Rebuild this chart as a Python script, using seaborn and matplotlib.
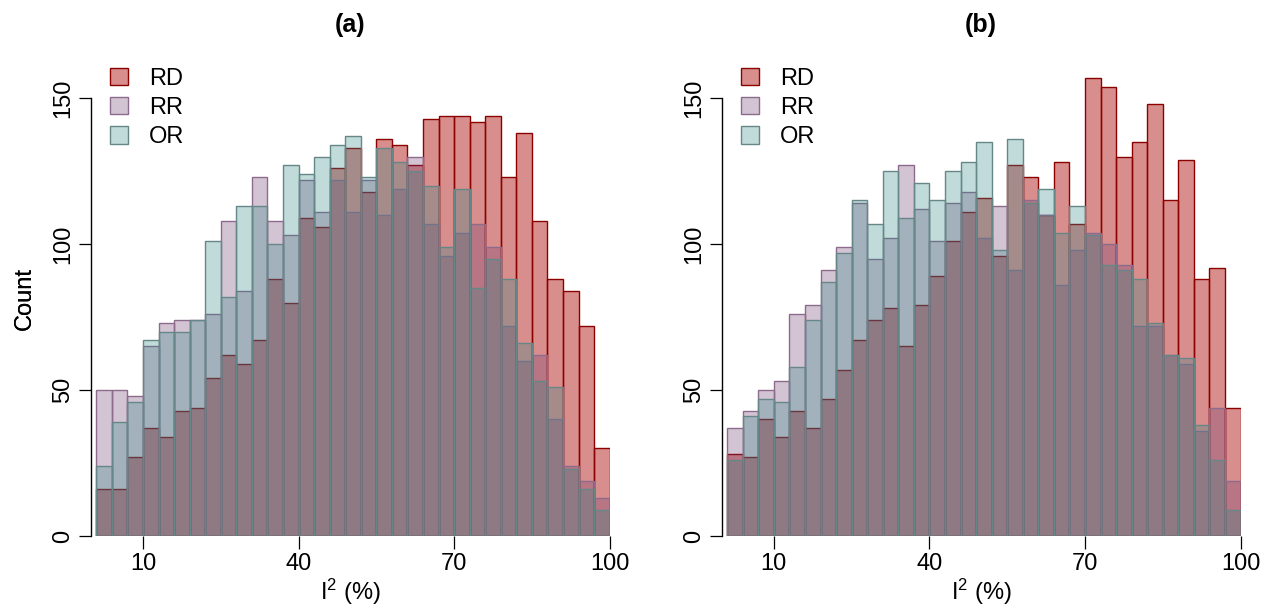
import numpy as np
import pandas as pd
import matplotlib
matplotlib.use("Agg")
import matplotlib.pyplot as plt
import seaborn as sns

# Histogram bins for I^2 (%): width 3, from 1 to 100
bin_edges = [float(v) for v in np.arange(1, 101, 3)]
bin_mids = [(a + b) / 2 for a, b in zip(bin_edges[:-1], bin_edges[1:])]

measures = ["RD", "RR", "OR"]
panel_titles = ["(a)", "(b)"]
x_ticks = [10, 40, 70, 100]
y_ticks = [0, 50, 100, 150]

# Counts per bin, panel (a)
rd_a = [16, 16, 27, 37, 34, 43, 44, 54, 62, 59, 67, 88, 80, 109, 106, 126, 133,
        118, 136, 134, 127, 143, 144, 144, 142, 144, 123, 138, 108, 88, 84, 72, 30]
rr_a = [50, 50, 48, 65, 73, 74, 74, 76, 108, 84, 123, 108, 103, 122, 111, 122, 111,
        122, 110, 119, 130, 107, 96, 104, 107, 99, 72, 60, 62, 40, 24, 19, 13]
or_a = [24, 39, 46, 67, 70, 70, 74, 101, 82, 113, 113, 100, 127, 124, 130, 134, 137,
        123, 133, 128, 125, 120, 99, 119, 85, 95, 88, 66, 53, 51, 23, 16, 9]

# Counts per bin, panel (b)
rd_b = [28, 27, 40, 34, 43, 37, 47, 57, 67, 74, 78, 65, 79, 89, 101, 111, 116,
        96, 127, 123, 110, 128, 107, 157, 154, 130, 135, 148, 115, 129, 88, 92, 44]
rr_b = [37, 43, 50, 53, 76, 79, 91, 99, 114, 95, 102, 127, 112, 101, 114, 118, 102,
        113, 91, 115, 110, 86, 98, 104, 100, 93, 72, 72, 62, 59, 36, 44, 19]
or_b = [26, 41, 47, 46, 58, 74, 87, 97, 115, 107, 125, 109, 121, 115, 125, 128, 135,
        98, 136, 114, 119, 104, 113, 103, 93, 91, 88, 73, 62, 61, 38, 26, 9]

panels = [
    {"RD": rd_a, "RR": rr_a, "OR": or_a},
    {"RD": rd_b, "RR": rr_b, "OR": or_b},
]

face = {
    "RD": (180 / 255, 30 / 255, 30 / 255, 0.5),
    "RR": (110 / 255, 60 / 255, 110 / 255, 0.3),
    "OR": (50 / 255, 135 / 255, 135 / 255, 0.3),
}
edge = {
    "RD": (0.55, 0.0, 0.0),
    "RR": (0.55, 0.42, 0.55),
    "OR": (0.40, 0.53, 0.53),
}

sns.set_theme(style="white")
plt.rcParams["font.family"] = ["Liberation Sans", "DejaVu Sans"]
plt.rcParams["mathtext.fontset"] = "custom"
plt.rcParams["mathtext.rm"] = "Liberation Sans"
plt.rcParams["mathtext.it"] = "Liberation Sans:italic"
plt.rcParams["mathtext.default"] = "regular"
plt.rcParams["text.color"] = "black"
plt.rcParams["axes.labelcolor"] = "black"
plt.rcParams["axes.linewidth"] = 1.0

W, H = 1271, 613
fig = plt.figure(figsize=(W / 100, H / 100), dpi=100)

px_per_unit_x = 5.185
px_per_unit_y = 2.918
y_top = 160
axes_left_px = [91.2, 722.0]
zero_y_px = 536.0
fs = 17

for k, counts in enumerate(panels):
    left = axes_left_px[k]
    ax = fig.add_axes([left / W, (H - zero_y_px) / H,
                       100 * px_per_unit_x / W, y_top * px_per_unit_y / H])
    frames = []
    for m in measures:
        frames.append(pd.DataFrame({"i2": bin_mids, "n": counts[m], "measure": m}))
    df = pd.concat(frames, ignore_index=True)

    for m in measures:
        sns.histplot(data=df[df["measure"] == m], x="i2", weights="n",
                     bins=bin_edges, stat="count", element="bars",
                     facecolor=face[m], edgecolor=edge[m], linewidth=1.0,
                     label=m, ax=ax)

    ax.set_xlim(0, 100)
    ax.set_ylim(0, y_top)
    ax.set_xticks(x_ticks)
    ax.set_yticks(y_ticks)
    ax.set_xticklabels([str(t) for t in x_ticks])
    ax.set_yticklabels([str(t) for t in y_ticks])

    for s in ["top", "right"]:
        ax.spines[s].set_visible(False)
    ax.spines["left"].set_bounds(0, 150)
    ax.spines["left"].set_color("black")
    ax.spines["bottom"].set_visible(False)

    ax.tick_params(axis="both", which="major", direction="out", length=9,
                   width=0.9, color="black", labelsize=fs, labelcolor="black")
    ax.tick_params(axis="x", bottom=True, pad=3)
    ax.tick_params(axis="y", left=True, pad=3, labelrotation=90)
    for lab in ax.get_yticklabels():
        lab.set_va("center")

    ax.set_ylabel("Count", fontsize=fs, color="black", ha="center", va="center")
    ax.yaxis.set_label_coords((25 - left) / (100 * px_per_unit_x),
                              (zero_y_px - 298) / (y_top * px_per_unit_y))
    ax.set_xlabel(r"I$^{2}$ (%)", fontsize=fs, color="black", ha="center", va="center")
    ax.xaxis.set_label_coords(0.5, -(592 - zero_y_px) / (y_top * px_per_unit_y))

    leg = ax.legend(loc="upper left",
                    bbox_to_anchor=((left + 19) / W, 1 - 68 / H),
                    bbox_transform=fig.transFigure,
                    frameon=False, fontsize=fs, handlelength=0.75, handleheight=0.75,
                    handletextpad=0.9, labelspacing=0.3, borderpad=0, borderaxespad=0)
    for t in leg.get_texts():
        t.set_color("black")

    fig.text((left + 50 * px_per_unit_x) / W, 1 - 25 / H, panel_titles[k],
             ha="center", va="center", fontsize=18, fontweight="bold", color="black")

fig.savefig("out.png", dpi=100)
